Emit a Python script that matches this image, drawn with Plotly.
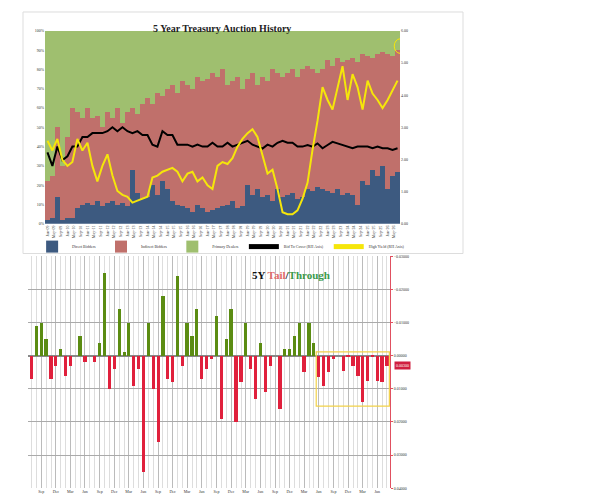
import plotly.graph_objects as go
import pandas as pd

# ---- top chart data (quarterly samples) ----
direct = [2,3,14,2, 3,3,8,10, 11,10,12,9, 11,12,10,11, 9,28,16,13, 14,20,15,22,
          18,12,10,9, 8,6,10,8, 6,7,8,9, 10,12,8,9, 20,15,18,14, 15,12,18,14,
          15,16,13,14, 18,17,19,18, 17,16,18,15, 16,15,10,22, 20,28,25,30, 18,25,27]
direct_plus_indirect = [22,25,50,30, 45,60,58,55, 60,55,56,50, 58,55,60,52, 58,60,57,62,
          65,62,68,66, 70,72,68,74, 72,70,76,74, 75,78,76,80, 72,74,76,70, 75,78,72,76,
          74,80,78,76, 78,80,76,80, 82,80,78,80, 85,82,86,84, 85,86,84,88, 87,86,88,89, 88,87,90]
high_yield = [2.58,2.28,2.64,1.98,1.8,1.92,2.64,2.28,2.52,1.8,1.32,1.8,2.16,1.5,1.02,0.9,
          0.84,0.66,0.72,0.78,0.84,1.44,1.5,1.62,1.68,1.74,1.62,1.32,1.56,1.62,1.32,1.44,
          1.2,1.08,1.8,1.92,1.86,2.04,2.4,2.64,2.82,2.94,2.7,2.16,1.56,1.68,1.08,0.36,0.3,0.3,
          0.42,0.78,1.28,2.3,3.2,4.25,3.85,3.55,4.25,4.9,3.85,4.65,4.25,3.55,4.45,4.05,3.85,
          3.6,3.85,4.15,4.45]
bid_to_cover = [2.22,1.8,2.4,1.98,2.1,2.4,2.4,2.7,2.7,2.82,2.82,2.82,2.88,3.0,2.88,3.0,2.88,
          2.82,2.88,2.76,2.76,2.46,2.4,2.88,2.76,2.76,2.46,2.46,2.46,2.4,2.46,2.4,2.4,2.52,
          2.4,2.4,2.52,2.4,2.46,2.52,2.58,2.46,2.4,2.34,2.46,2.4,2.52,2.58,2.52,2.52,2.4,2.4,
          2.45,2.4,2.5,2.35,2.45,2.55,2.5,2.45,2.4,2.35,2.4,2.4,2.4,2.35,2.4,2.35,2.35,2.3,2.35]
indirect = [t - d for t, d in zip(direct_plus_indirect, direct)]
dealers = [100 - t for t in direct_plus_indirect]
top_dates = pd.date_range("2009-01-01", periods=len(direct), freq="QS")

# ---- bottom chart data (monthly tail(+)/through(-)) ----
tail = [0.007,-0.009,-0.010,-0.005,0.007,0.003,-0.002,0.006,0.003,0.0,-0.006,0.002,0.0,0.002,
        -0.004,-0.025,0.010,0.004,-0.014,-0.001,-0.010,0.009,0.004,0.035,-0.010,0.010,0.026,
        -0.018,0.007,0.008,-0.024,0.003,-0.010,-0.006,-0.014,0.007,0.004,0.001,-0.012,0.019,
        -0.005,-0.014,0.020,0.008,-0.010,0.004,0.013,-0.004,0.011,0.003,0.0,0.016,-0.002,
        -0.002,-0.006,-0.010,0.005,-0.010,-0.004,0.0065,0.009,0.005,0.001,0.0,0.0045,0.0005,
        0.003,0.006,0.014,0.0075,0.0005,0.0075,0.008,0.003]
bot_dates = pd.date_range("2020-07-01", periods=len(tail), freq="MS")
bot_colors = ["#e0203c" if v > 0 else "#5b8c12" for v in tail]
tick_months = [d for d in pd.date_range("2020-09-01", "2026-08-01", freq="3MS")]
tick_text = [d.strftime("%b") + ("<br>" + d.strftime("%Y") if d.month == 6 or i == 0 else "")
             for i, d in enumerate(tick_months)]

H = 495
def py(px):
    return 1 - px / H

fig = go.Figure()
fig.add_bar(x=top_dates, y=direct, name="Direct Bidders", marker_color="#3d5a80", marker_line_width=0)
fig.add_bar(x=top_dates, y=indirect, name="Indirect Bidders", marker_color="#c0706b", marker_line_width=0)
fig.add_bar(x=top_dates, y=dealers, name="Primary Dealers", marker_color="#9fbf6f", marker_line_width=0)
fig.add_scatter(x=top_dates, y=bid_to_cover, name="Bid To Cover (RH Axis)", yaxis="y2",
                line=dict(color="black", width=2), mode="lines")
fig.add_scatter(x=top_dates, y=high_yield, name="High Yield (RH Axis)", yaxis="y2",
                line=dict(color="#f5e60a", width=2), mode="lines")
fig.add_bar(x=bot_dates, y=tail, xaxis="x2", yaxis="y3", marker_color=bot_colors,
            marker_line_width=0, showlegend=False, width=86400000 * 20)

fig.update_layout(
    width=592, height=495, margin=dict(l=0, r=0, t=0, b=0),
    paper_bgcolor="white", plot_bgcolor="white", barmode="stack", bargap=0.12,
    font=dict(family="Liberation Serif", size=5, color="#333"),
    xaxis=dict(domain=[37/592, 392/592], anchor="y", tickformat="%b-%y", tickangle=-90,
               dtick="M4", tick0="2009-01-01", tickfont=dict(size=4), showgrid=False,
               range=[top_dates[0] - pd.Timedelta(days=45), top_dates[-1] + pd.Timedelta(days=45)]),
    yaxis=dict(domain=[py(215), py(20)], range=[0, 100], ticksuffix="%", dtick=10,
               tickfont=dict(size=4), showgrid=False),
    yaxis2=dict(overlaying="y", side="right", range=[0, 6], dtick=1, tickformat=".2f",
                tickfont=dict(size=4), showgrid=False, anchor="x"),
    xaxis2=dict(domain=[20/592, 382/592], anchor="y3", tickvals=tick_months, ticktext=tick_text,
                tickfont=dict(size=4), showgrid=True, gridcolor="#bbb",
                minor=dict(dtick="M1", showgrid=True, gridcolor="#ddd", tick0="2020-07-01"),
                range=["2020-06-10", "2026-08-20"], zeroline=False),
    yaxis3=dict(domain=[py(482), py(248)], range=[0.04, -0.03], side="right", anchor="x2",
                dtick=0.01, tickformat=".5f", tickfont=dict(size=4), gridcolor="#aaa",
                zeroline=True, zerolinecolor="#888", showline=True, linecolor="#e05060",
                ticks="outside", ticklen=2, tickcolor="#e05060"),
    legend=dict(orientation="h", x=0.36, xanchor="center", y=py(238), yanchor="middle",
                font=dict(size=4), traceorder="normal", bgcolor="rgba(0,0,0,0)",
                itemwidth=30, itemsizing="constant"),
    shapes=[
        dict(type="rect", xref="paper", yref="paper", x0=15/592, x1=455/592, y0=py(245), y1=py(1),
             line=dict(color="#ddd", width=1)),
        dict(type="rect", xref="x2", yref="y3", x0=bot_dates[58] + pd.Timedelta(days=15),
             x1=bot_dates[73] + pd.Timedelta(days=15), y0=-0.0012, y1=0.0152,
             line=dict(color="#f2d24a", width=1.2)),
        dict(type="circle", xref="x", yref="y2", x0=top_dates[-1] - pd.Timedelta(days=60),
             x1=top_dates[-1] + pd.Timedelta(days=150), y0=5.3, y1=5.75,
             line=dict(color="#f5e60a", width=1)),
    ],
    annotations=[
        dict(text="<b>5 Year Treasury Auction History</b>", xref="paper", yref="paper",
             x=214/592, y=py(10), showarrow=False, font=dict(size=10, color="#222")),
        dict(text="<b>5Y <span style='color:#e06a6a'>Tail</span>/<span style='color:#3a9a4a'>Through</span></b>",
             xref="paper", yref="paper", x=283/592, y=py(267), showarrow=False,
             font=dict(size=11, color="#111")),
        dict(text="0.00300", xref="paper", yref="y3", x=386/592, y=0.003, xanchor="left",
             showarrow=False, bgcolor="#d02040", font=dict(size=4, color="white")),
    ],
)
fig.write_html("out.html")
